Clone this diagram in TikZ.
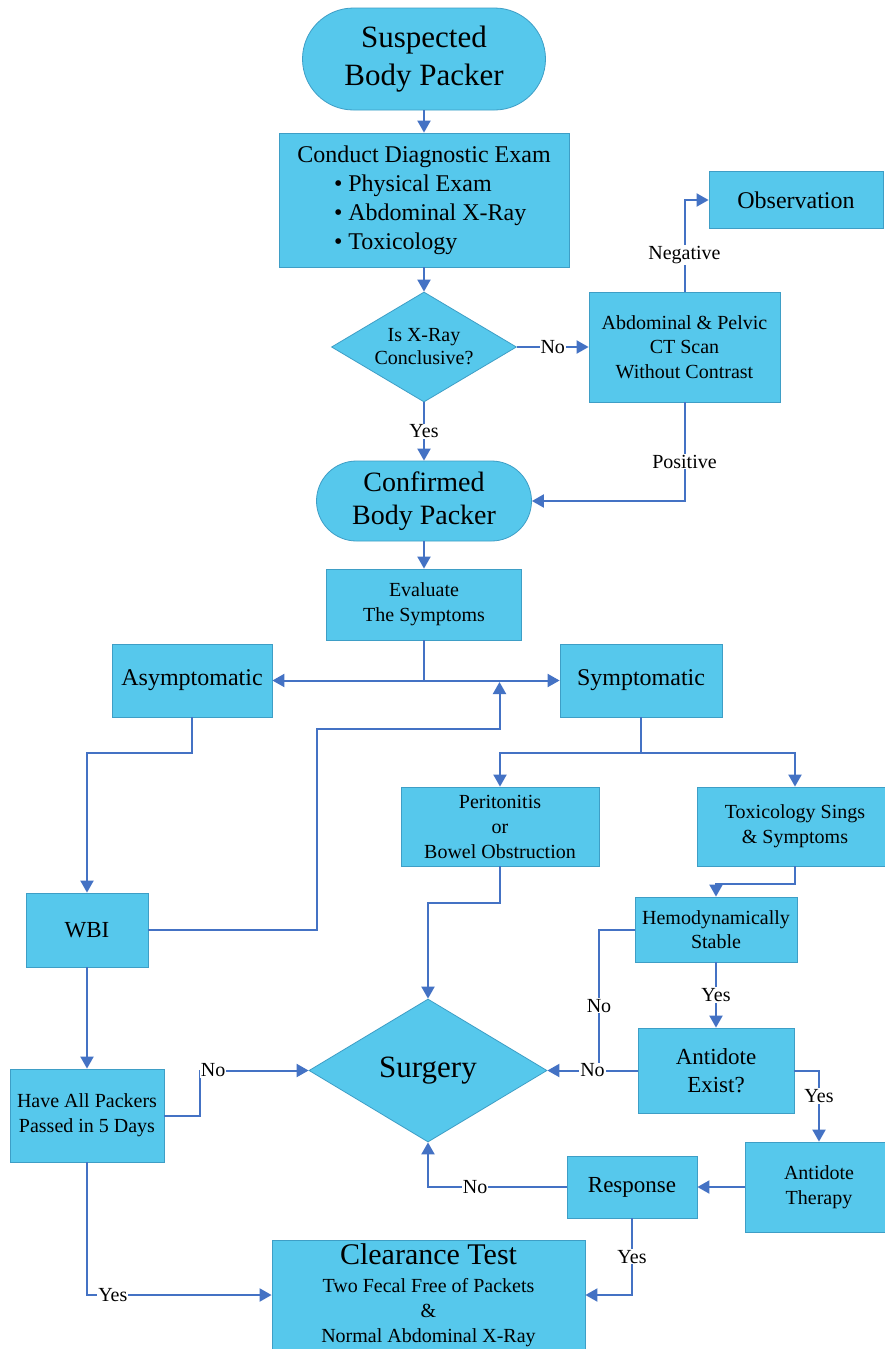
\documentclass[tikz,border=0pt]{standalone}
\usepackage{fontspec}
\setmainfont{Liberation Serif}
\usetikzlibrary{shapes.geometric,arrows.meta}
\definecolor{boxfill}{RGB}{86,200,236}
\definecolor{boxline}{RGB}{62,158,198}
\definecolor{arrblue}{RGB}{68,114,196}
\newcommand{\fs}[2]{\fontsize{#1}{#2}\selectfont}
\tikzset{
  box/.style={draw=boxline, line width=0.8pt, fill=boxfill, inner sep=0pt, align=center},
  term/.style={box, rounded corners=#1},
  dec/.style={draw=boxline, line width=0.8pt, fill=boxfill, inner sep=0pt, align=center, shape=diamond},
  conn/.style={draw=arrblue, line width=2pt},
  arr/.style={conn, -{Triangle[length=12pt,width=13pt]}},
  lbl/.style={fill=white, inner sep=1pt, font=\fs{20}{22}, text=black},
}
\begin{document}
\begin{tikzpicture}[x=1pt,y=-1pt]
\useasboundingbox (0,0) rectangle (884,1349);
\fill[white] (0,0) rectangle (884,1349);

% nodes
\node[term=51pt, minimum width=243pt, minimum height=102pt, font=\fs{31}{38}] (susp) at (424,59) {Suspected\\Body Packer};
\node[box, minimum width=290pt, minimum height=134pt, font=\fs{24}{29}] (cond) at (424,200)
  {Conduct Diagnostic Exam\\
   \makebox[180pt][l]{\textbullet\ Physical Exam}\\
   \makebox[180pt][l]{\textbullet\ Abdominal X-Ray}\\
   \makebox[180pt][l]{\textbullet\ Toxicology}};
\node[dec, aspect=1.68, minimum width=185pt, minimum height=110pt, font=\fs{20}{23}] (xray) at (424,347) {Is X-Ray\\Conclusive?};
\node[box, minimum width=191pt, minimum height=110pt, font=\fs{20}{24.5}] (ct) at (684.5,347) {Abdominal \& Pelvic\\CT Scan\\Without Contrast};
\node[box, minimum width=174pt, minimum height=57pt, font=\fs{24}{28}] (obs) at (796,200) {Observation};
\node[term=40pt, minimum width=215pt, minimum height=80pt, font=\fs{28}{33}] (conf) at (424,501) {Confirmed\\Body Packer};
\node[box, minimum width=195pt, minimum height=71pt, font=\fs{20}{25}] (eval) at (424,604.5) {Evaluate\\The Symptoms};
\node[box, minimum width=160pt, minimum height=73pt, font=\fs{24}{28}] (asym) at (192,680.5) {Asymptomatic};
\node[box, minimum width=162pt, minimum height=73pt, font=\fs{24}{28}] (sym) at (641,680.5) {Symptomatic};
\node[box, minimum width=198pt, minimum height=79pt, font=\fs{20}{25}] (perit) at (500,826.5) {Peritonitis\\or\\Bowel Obstruction};
\node[box, minimum width=196pt, minimum height=79pt, font=\fs{20}{25}] (toxs) at (795,826.5) {Toxicology Sings\\\& Symptoms};
\node[box, minimum width=122pt, minimum height=74pt, font=\fs{23}{27}] (wbi) at (87,930) {WBI};
\node[box, minimum width=162pt, minimum height=65pt, font=\fs{20}{24.5}] (hemo) at (716,929.5) {Hemodynamically\\Stable};
\node[dec, aspect=1.66, minimum width=238pt, minimum height=143pt, font=\fs{31}{36}] (surg) at (428,1070.5) {Surgery};
\node[box, minimum width=156pt, minimum height=85pt, font=\fs{23}{28}] (antex) at (716,1070.5) {Antidote\\Exist?};
\node[box, minimum width=154pt, minimum height=93pt, font=\fs{20}{25}] (have) at (87,1115.5) {Have All Packers\\Passed in 5 Days};
\node[box, minimum width=148pt, minimum height=90pt, font=\fs{20}{25}] (ther) at (819,1187) {Antidote\\Therapy};
\node[box, minimum width=130pt, minimum height=62pt, font=\fs{23}{27}] (resp) at (632,1187) {Response};
\node[box, minimum width=313pt, minimum height=110pt, font=\fs{20}{25}] (clear) at (428.5,1295)
  {{\fs{30}{30}Clearance Test}\\[3pt]Two Fecal Free of Packets\\\&\\Normal Abdominal X-Ray};

% coordinates
\coordinate (sp) at (424,680.5);
\coordinate (w1) at (317,729);
\coordinate (w2) at (499.5,682);
\coordinate (a1) at (87,753);
\coordinate (s1) at (641,753);
\coordinate (p1) at (428,903);
\coordinate (t1) at (716,884);
\coordinate (h1) at (599,1070.5);
\coordinate (hv1) at (200,1070.5);

% connectors
\draw[arr] (susp) -- (cond);
\draw[arr] (cond) -- (xray);
\draw[arr] (xray) -- node[lbl]{No} (ct);
\draw[arr] (ct.north) |- node[lbl,pos=0.2]{Negative} (obs.west);
\draw[arr] (xray) -- node[lbl]{Yes} (conf);
\draw[arr] (ct.south) |- node[lbl,pos=0.3]{Positive} (conf.east);
\draw[arr] (conf) -- (eval);
\draw[conn] (eval) -- (sp);
\draw[arr] (sp) -- (asym);
\draw[arr] (sp) -- (sym);
\draw[arr] (wbi.east) -| (w1) -| (w2);
\draw[arr] (asym.south) |- (a1) -- (wbi.north);
\draw[conn] (sym.south) -- (s1);
\draw[arr] (s1) -| (perit.north);
\draw[arr] (s1) -| (toxs.north);
\draw[arr] (perit.south) |- (p1) -- (surg.north);
\draw[arr] (toxs.south) |- (t1) -- (hemo.north);
\draw[conn] (hemo.west) -| node[lbl,pos=0.77]{No} (h1);
\draw[arr] (hemo) -- node[lbl]{Yes} (antex);
\draw[arr] (antex) -- node[lbl]{No} (surg.east);
\draw[arr] (antex.east) -| node[lbl,pos=0.68]{Yes} (ther.north);
\draw[arr] (ther) -- (resp);
\draw[arr] (resp.west) -| node[lbl,pos=0.33]{No} (surg.south);
\draw[arr] (resp.south) |- node[lbl,pos=0.25]{Yes} (clear.east);
\draw[arr] (wbi) -- (have);
\draw[arr] (have.east) -| (hv1) -- node[lbl,pos=0.12]{No} (surg.west);
\draw[arr] (have.south) |- node[lbl,pos=0.57]{Yes} (clear.west);
\end{tikzpicture}
\end{document}
